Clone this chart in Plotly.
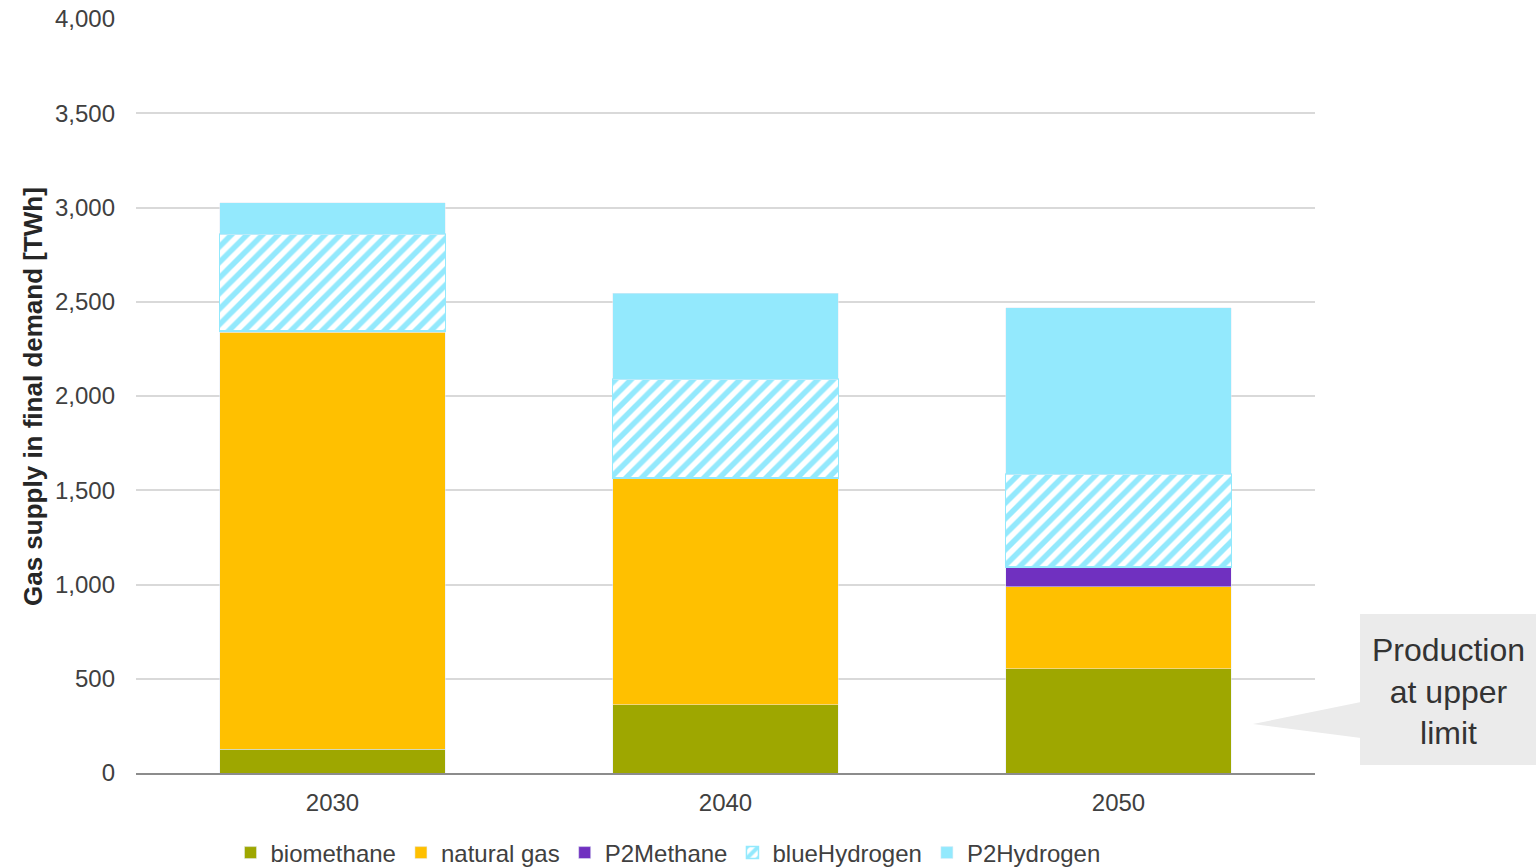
import plotly.graph_objects as go

# Gas supply in final demand by source [TWh]
years = ["2030", "2040", "2050"]
biomethane = [126, 361, 552]
natural_gas = [2211, 1202, 436]
p2methane = [8, 3, 105]
blue_hydrogen = [514, 524, 493]
p2hydrogen = [165, 455, 883]

y_ticks = [0, 500, 1000, 1500, 2000, 2500, 3000, 3500, 4000]
y_tick_text = ["0", "500", "1,000", "1,500", "2,000", "2,500", "3,000", "3,500", "4,000"]

FONT = "Liberation Sans, Arial, sans-serif"
CYAN = "#93E9FD"

fig = go.Figure()
fig.add_trace(go.Bar(name="biomethane", x=years, y=biomethane,
                     marker=dict(color="#9EA700")))
fig.add_trace(go.Bar(name="natural gas", x=years, y=natural_gas,
                     marker=dict(color="#FFC000")))
fig.add_trace(go.Bar(name="P2Methane", x=years, y=p2methane,
                     marker=dict(color="#7030C0")))
fig.add_trace(go.Bar(name="blueHydrogen", x=years, y=blue_hydrogen,
                     marker=dict(color="white",
                                 line=dict(color=CYAN, width=1.5),
                                 pattern=dict(shape="/", fgcolor=CYAN, bgcolor="white",
                                              fgopacity=1, fillmode="replace",
                                              size=11, solidity=0.5))))
fig.add_trace(go.Bar(name="P2Hydrogen", x=years, y=p2hydrogen,
                     marker=dict(color=CYAN)))

# callout box with pointer towards the 2050 biomethane bar
px_w, px_h, left, bottom = 1179, 754, 136, 773
def px(x):
    return (x - left) / px_w
def py(y):
    return (bottom - y) / px_h

shapes = [
    dict(type="rect", xref="paper", yref="paper",
         x0=px(1360), x1=px(1536), y0=py(765), y1=py(614),
         fillcolor="#EBEBEB", line=dict(width=0), layer="above"),
    dict(type="path", xref="paper", yref="paper",
         path=f"M{px(1361)},{py(702)} L{px(1253)},{py(724)} L{px(1361)},{py(738)} Z",
         fillcolor="#EBEBEB", line=dict(width=0), layer="above"),
]

annotations = [
    dict(text="Production<br>at upper<br>limit", xref="paper", yref="paper",
         x=px(1448), y=py(691), xanchor="center", yanchor="middle",
         showarrow=False, font=dict(family=FONT, size=32, color="#333333")),
    dict(text="<b>Gas supply in final demand [TWh]</b>", xref="paper", yref="paper",
         x=px(33), y=py(397), xanchor="center", yanchor="middle", textangle=-90,
         showarrow=False, font=dict(family=FONT, size=26, color="#262626")),
]

fig.update_layout(
    barmode="stack",
    bargap=0.425,
    width=1540, height=867,
    margin=dict(l=136, r=225, t=19, b=94, autoexpand=False),
    paper_bgcolor="white", plot_bgcolor="white",
    font=dict(family=FONT, size=24, color="#404040"),
    showlegend=True,
    legend=dict(orientation="h", x=px(668), xanchor="center", y=py(853), yanchor="middle",
                font=dict(family=FONT, size=24, color="#404040"),
                traceorder="normal", itemwidth=30, bgcolor="rgba(0,0,0,0)"),
    shapes=shapes,
    annotations=annotations,
    xaxis=dict(type="category", showgrid=False, showline=True, linecolor="#8C8C8C",
               linewidth=2, ticks="", ticklabelstandoff=7,
               tickfont=dict(family=FONT, size=24, color="#404040")),
    yaxis=dict(range=[0, 4000], tickvals=y_ticks, ticktext=y_tick_text,
               showgrid=True, gridcolor="#D9D9D9", gridwidth=2, zeroline=False,
               showline=False, ticks="", ticklabelstandoff=20,
               tickfont=dict(family=FONT, size=24, color="#404040")),
)

fig.write_html("out.html")
